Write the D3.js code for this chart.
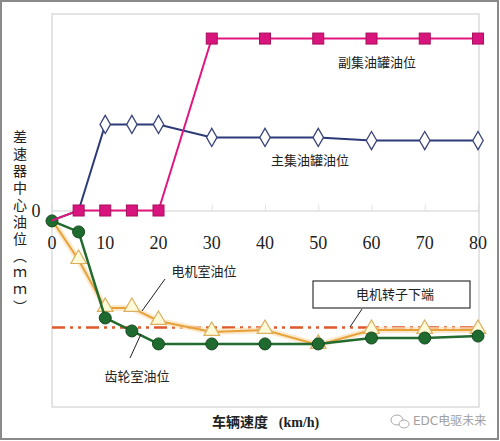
<!DOCTYPE html>
<html><head><meta charset="utf-8">
<script src="https://cdn.jsdelivr.net/npm/d3@7"></script>
<style>html,body{margin:0;padding:0;background:#fff;}svg{display:block;}</style>
</head><body>
<script>
// ---- data ----
const speeds = [0, 5, 10, 15, 20, 30, 40, 50, 60, 70, 80];
const subTank = [-5, 0, 0, 0, 0, 87.5, 87.5, 87.5, 87.5, 87.5, 87.5];      // 副集油罐油位
const mainTank = [-5, 0, 43.8, 43.8, 43.8, 37.2, 37.2, 37.2, 35.6, 35.6, 35.6]; // 主集油罐油位
const motorRoom = [-4.8, -25.2, -49.6, -49.6, -56.2, -61.8, -60.8, -68.4, -60.8, -60.8, -60.8]; // 电机室油位
const gearRoom = [-5.3, -10.9, -54.7, -61.3, -67.9, -67.9, -67.9, -67.9, -64.9, -64.9, -63.9]; // 齿轮室油位
const rotorLevel = -59.5; // 电机转子下端
const xTicks = [0, 10, 20, 30, 40, 50, 60, 70, 80];
const yTicks = [0];
const labels = {
  sub: "副集油罐油位", main: "主集油罐油位", motor: "电机室油位", gear: "齿轮室油位",
  rotor: "电机转子下端", yTitle: "差速器中心油位（ｍｍ）", xTitle: "车辆速度", xUnit: "(km/h)", mark: "EDC电驱未来"
};

const W = 500, H = 441;
const svg = d3.select("body").append("svg").attr("width", W).attr("height", H);
const serif = "'Liberation Serif','DejaVu Serif',serif";
const cjk = "'Noto Sans CJK SC','Noto Sans CJK JP',sans-serif";

// outer frame
svg.append("rect").attr("x", 1).attr("y", 1).attr("width", W - 3).attr("height", H - 3)
  .attr("fill", "none").attr("stroke", "#8a8a8a").attr("stroke-width", 2);

const L = 52, R = 479, T = 14, B = 407;
const x = d3.scaleLinear().domain([0, 80]).range([L, R - 1]);
const y = d3.scaleLinear().domain([-100, 100]).range([B, T]);

// plot frame
svg.append("rect").attr("x", L).attr("y", T).attr("width", R - L).attr("height", B - T)
  .attr("fill", "none").attr("stroke", "#dcdcdc").attr("stroke-width", 1.5);

// zero line axis with ticks
const xAxis = d3.axisTop(x).tickValues(xTicks).tickSize(6).tickFormat("");
const gx = svg.append("g").attr("transform", `translate(0,${y(0)})`).call(xAxis);
gx.select(".domain").attr("stroke", "#d0d0d0").attr("stroke-width", 1.2);
gx.selectAll(".tick line").attr("stroke", "#e2e2e2");

// x tick labels (below the zero line)
svg.append("g").selectAll("text").data(xTicks).join("text")
  .attr("x", d => x(d)).attr("y", y(0) + 38)
  .attr("text-anchor", "middle").attr("font-family", serif).attr("font-size", 18).attr("fill", "#222")
  .text(d => d);

// y tick label
svg.append("g").selectAll("text").data(yTicks).join("text")
  .attr("x", 36).attr("y", d => y(d) + 6)
  .attr("text-anchor", "middle").attr("font-family", serif).attr("font-size", 18).attr("fill", "#222")
  .text(d => d);

// y title vertical
svg.append("text").attr("x", 20).attr("y", 130)
  .attr("writing-mode", "vertical-rl").style("writing-mode", "vertical-rl")
  .style("text-orientation", "upright").attr("letter-spacing", 3)
  .attr("font-family", cjk).attr("font-size", 14).attr("fill", "#222")
  .text(labels.yTitle);

const pts = arr => speeds.map((s, i) => ({ s, v: arr[i] }));
const line = d3.line().x(d => x(d.s)).y(d => y(d.v));

// rotor dash-dot line
svg.append("line").attr("x1", L).attr("x2", R).attr("y1", y(rotorLevel)).attr("y2", y(rotorLevel))
  .attr("stroke", "#de5a2c").attr("stroke-width", 2.5).attr("stroke-dasharray", "13,5,3,5,3,5");

// motor room (orange) glow + line
svg.append("path").datum(pts(motorRoom)).attr("d", line).attr("fill", "none")
  .attr("stroke", "#fbe0b8").attr("stroke-width", 6).attr("opacity", 0.7);
svg.append("path").datum(pts(motorRoom)).attr("d", line).attr("fill", "none")
  .attr("stroke", "#e6a238").attr("stroke-width", 2);
svg.append("g").selectAll("path").data(pts(motorRoom).slice(1)).join("path")
  .attr("d", d3.symbol().type(d3.symbolTriangle).size(105))
  .attr("transform", d => `translate(${x(d.s)},${y(d.v) - 1})`)
  .attr("fill", "#fffad8").attr("stroke", "#d9b060").attr("stroke-width", 1.2);

// gear room (green)
svg.append("path").datum(pts(gearRoom)).attr("d", line).attr("fill", "none")
  .attr("stroke", "#236b2f").attr("stroke-width", 2.5);
svg.append("g").selectAll("circle").data(pts(gearRoom)).join("circle")
  .attr("cx", d => x(d.s)).attr("cy", d => y(d.v)).attr("r", 6)
  .attr("fill", "#1f6a2e").attr("stroke", "#17491f").attr("stroke-width", 1);

// main tank (navy)
svg.append("path").datum(pts(mainTank)).attr("d", line).attr("fill", "none")
  .attr("stroke", "#2c3b78").attr("stroke-width", 2);
svg.append("g").selectAll("path").data(pts(mainTank).filter(d => d.v > 0)).join("path")
  .attr("d", d3.symbol().type(d3.symbolDiamond).size(95))
  .attr("transform", d => `translate(${x(d.s)},${y(d.v)})`)
  .attr("fill", "#fff").attr("stroke", "#3a4478").attr("stroke-width", 1.3);

// sub tank (magenta)
svg.append("path").datum(pts(subTank)).attr("d", line).attr("fill", "none")
  .attr("stroke", "#e2167f").attr("stroke-width", 2);
svg.append("g").selectAll("rect").data(pts(subTank).slice(1)).join("rect")
  .attr("x", d => x(d.s) - 5.5).attr("y", d => y(d.v) - 5.5).attr("width", 11).attr("height", 11)
  .attr("fill", "#d8157c").attr("stroke", "#a80f5d").attr("stroke-width", 1);

// annotations
const txt = (t, cx, cy, size) => svg.append("text").attr("x", cx).attr("y", cy)
  .attr("text-anchor", "middle").attr("font-family", cjk).attr("font-size", size || 13)
  .attr("fill", "#222").text(t);
txt(labels.sub, 377, 67);
txt(labels.main, 310, 165);
txt(labels.motor, 204, 276);
txt(labels.gear, 137, 381);

// leader lines
const lead = (x1, y1, x2, y2) => svg.append("line").attr("x1", x1).attr("y1", y1).attr("x2", x2).attr("y2", y2)
  .attr("stroke", "#222").attr("stroke-width", 1);
lead(165, 279, 142, 311);
lead(130, 358, 141, 334);
lead(362, 309, 350, 327);

// rotor box
svg.append("rect").attr("x", 313).attr("y", 281).attr("width", 157).attr("height", 27)
  .attr("fill", "#fff").attr("stroke", "#333").attr("stroke-width", 1.2);
txt(labels.rotor, 395, 299);

// x title
svg.append("text").attr("x", 240).attr("y", 427).attr("text-anchor", "middle")
  .attr("font-family", cjk).attr("font-size", 14).attr("font-weight", "bold").attr("fill", "#222")
  .text(labels.xTitle);
svg.append("text").attr("x", 299).attr("y", 427).attr("text-anchor", "middle")
  .attr("font-family", serif).attr("font-size", 14).attr("font-weight", "bold").attr("fill", "#222")
  .text(labels.xUnit);

// watermark
const wm = svg.append("g").attr("fill", "none").attr("stroke", "#aaa").attr("stroke-width", 1);
wm.append("ellipse").attr("cx", 397).attr("cy", 420).attr("rx", 6).attr("ry", 5);
wm.append("ellipse").attr("cx", 404).attr("cy", 424).attr("rx", 5).attr("ry", 4).attr("fill", "#fff");
svg.append("text").attr("x", 413).attr("y", 425).attr("font-family", "'DejaVu Sans','Noto Sans CJK SC',sans-serif")
  .attr("font-size", 12).attr("fill", "#a0a0a0").text(labels.mark);
</script>
</body></html>
